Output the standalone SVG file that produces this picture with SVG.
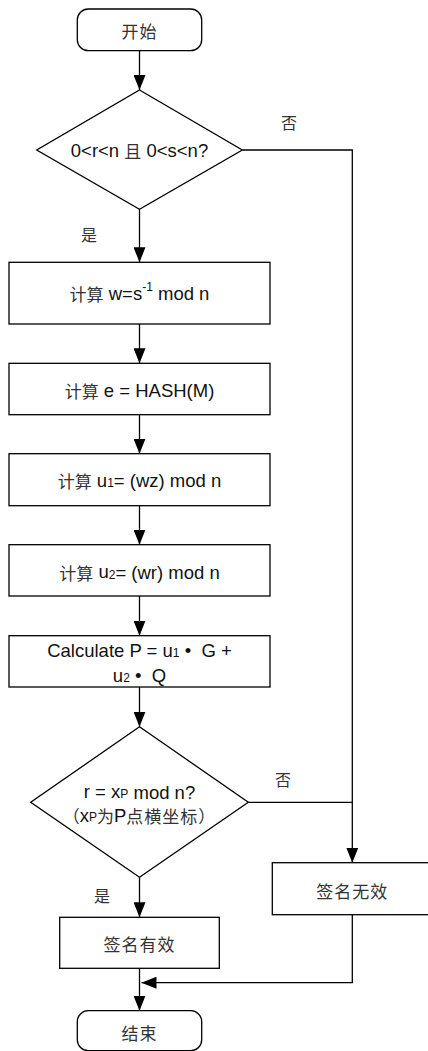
<svg xmlns="http://www.w3.org/2000/svg" width="428" height="1051" viewBox="0 0 428 1051">
<style>
.s{fill:#fff;stroke:#000;stroke-width:1.3}
.c{fill:none;stroke:#000;stroke-width:1.3}
.t{font-family:"Liberation Sans","Noto Sans CJK SC",sans-serif;font-size:18.5px;fill:#111;text-anchor:middle;dominant-baseline:central}
.z{font-family:"Noto Sans CJK SC",sans-serif;font-size:17px;letter-spacing:1px;fill:#333}
.l{font-size:16px;letter-spacing:0}
.sm{font-size:12px}
</style>
<defs>
<marker id="a" markerUnits="userSpaceOnUse" markerWidth="16" markerHeight="12" viewBox="0 0 16 12" refX="15" refY="6" orient="auto">
<path d="M0,0 L15,6 L0,12 Z" fill="#000"/>
</marker>
</defs>
<rect width="428" height="1051" fill="#fff"/>
<g id="connectors">
<line class="c" x1="139.5" y1="50.7" x2="139.5" y2="90" marker-end="url(#a)"/>
<line class="c" x1="139.5" y1="209.3" x2="139.5" y2="262.3" marker-end="url(#a)"/>
<line class="c" x1="139.5" y1="324" x2="139.5" y2="363.3" marker-end="url(#a)"/>
<line class="c" x1="139.5" y1="414.7" x2="139.5" y2="453.7" marker-end="url(#a)"/>
<line class="c" x1="139.5" y1="505.7" x2="139.5" y2="544.7" marker-end="url(#a)"/>
<line class="c" x1="139.5" y1="596" x2="139.5" y2="635.7" marker-end="url(#a)"/>
<line class="c" x1="139.5" y1="687" x2="139.5" y2="726.7" marker-end="url(#a)"/>
<line class="c" x1="139.5" y1="877.3" x2="139.5" y2="917.3" marker-end="url(#a)"/>
<line class="c" x1="139.5" y1="968.3" x2="139.5" y2="1010.7" marker-end="url(#a)"/>
<polyline class="c" points="242.3,150 352.3,150 352.3,862.7" marker-end="url(#a)"/>
<line class="c" x1="248.3" y1="802.3" x2="352.3" y2="802.3"/>
<polyline class="c" points="352.3,914.7 352.3,982.7 141.5,982.7" marker-end="url(#a)"/>
<text class="t z l" x="289" y="122">否</text>
<text class="t z l" x="89" y="234">是</text>
<text class="t z l" x="283" y="779">否</text>
<text class="t z l" x="102" y="895">是</text>
</g>
<g id="start">
<rect class="s" x="77.3" y="9" width="124.4" height="41.7" rx="11"/>
<text class="t z" x="139.5" y="30">开始</text>
</g>
<g id="check1">
<polygon class="s" points="139.5,90 242.3,150 139.5,209.3 36.7,150"/>
<text class="t" x="139.5" y="150">0&lt;r&lt;n <tspan class="z" style="letter-spacing:0">且</tspan> 0&lt;s&lt;n?</text>
</g>
<g id="calcw">
<rect class="s" x="9" y="262.3" width="261" height="61.7"/>
<text class="t" x="139.5" y="293.3"><tspan class="z" style="letter-spacing:0">计算</tspan> w=s<tspan class="sm" dy="-6">-1</tspan><tspan dy="6"> mod n</tspan></text>
</g>
<g id="calce">
<rect class="s" x="9" y="363.3" width="261" height="51.4"/>
<text class="t" x="139.5" y="390"><tspan class="z" style="letter-spacing:0">计算</tspan> e = HASH(M)</text>
</g>
<g id="calcu1">
<rect class="s" x="9" y="453.7" width="261" height="52"/>
<text class="t" x="139.5" y="480"><tspan class="z" style="letter-spacing:0">计算</tspan> u<tspan class="sm" dy="3">1</tspan><tspan dy="-3">= (wz) mod n</tspan></text>
</g>
<g id="calcu2">
<rect class="s" x="9" y="544.7" width="261" height="51.3"/>
<text class="t" x="139.5" y="571.7"><tspan class="z" style="letter-spacing:0">计算</tspan> u<tspan class="sm" dy="3">2</tspan><tspan dy="-3">= (wr) mod n</tspan></text>
</g>
<g id="calcP">
<rect class="s" x="9" y="635.7" width="261" height="51.3"/>
<text class="t" x="139.5" y="650">Calculate P = u<tspan class="sm" dy="3">1</tspan><tspan dy="-3"> •&#160;&#160;G +</tspan></text>
<text class="t" x="139.5" y="675">u<tspan class="sm" dy="3">2</tspan><tspan dy="-3"> •&#160;&#160;Q</tspan></text>
</g>
<g id="check2">
<polygon class="s" points="139.5,726.7 248.3,802.3 139.5,877.3 30.7,802.3"/>
<text class="t" x="139.5" y="791.7">r = x<tspan class="sm" dy="2">P</tspan><tspan dy="-2"> mod n?</tspan></text>
<text class="t" x="139.5" y="815"><tspan class="z" style="letter-spacing:0">（</tspan>x<tspan class="sm" dy="2">P</tspan><tspan dy="-2" class="z" style="letter-spacing:0">为</tspan>P<tspan class="z" style="letter-spacing:1px">点横坐标）</tspan></text>
</g>
<g id="invalid">
<rect class="s" x="272.3" y="862.7" width="160" height="52"/>
<text class="t z" x="352.3" y="890">签名无效</text>
</g>
<g id="valid">
<rect class="s" x="59.7" y="917.3" width="159.6" height="51"/>
<text class="t z" x="139.5" y="943.3">签名有效</text>
</g>
<g id="end">
<rect class="s" x="77.3" y="1010.7" width="124.4" height="40" rx="11"/>
<text class="t z" x="139.5" y="1032">结束</text>
</g>
</svg>
